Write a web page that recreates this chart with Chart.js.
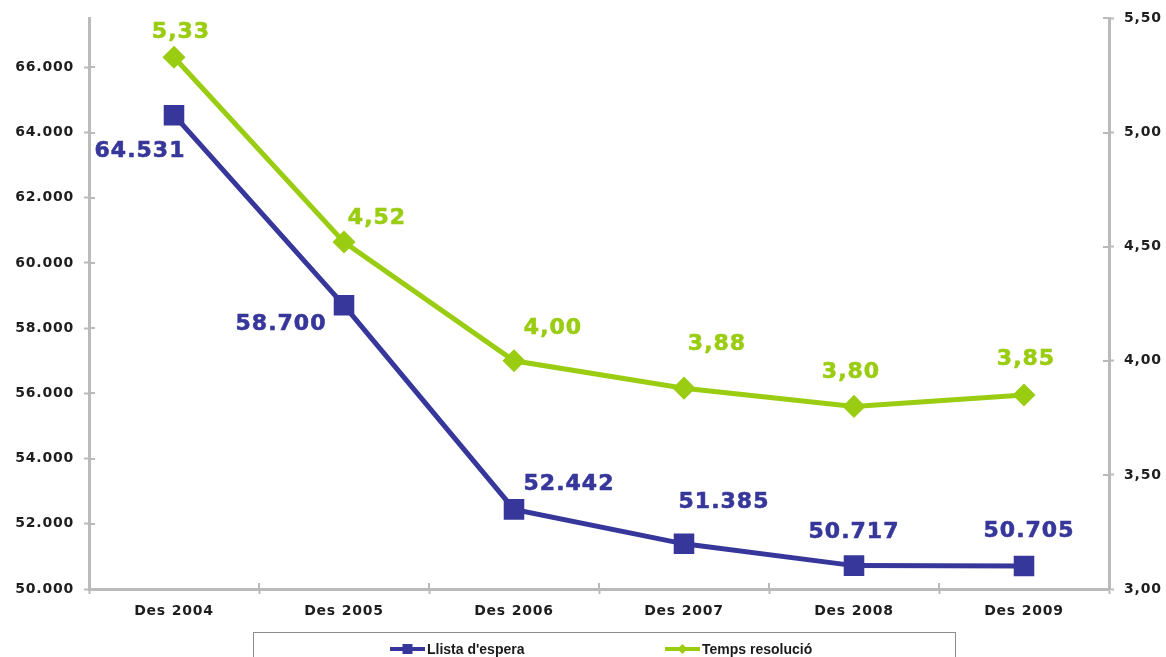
<!DOCTYPE html>
<html>
<head>
<meta charset="utf-8">
<script src="https://cdn.jsdelivr.net/npm/chart.js@4/dist/chart.umd.min.js"></script>
<style>
  html, body { margin: 0; padding: 0; background: #fff; }
  #wrap { width: 1166px; height: 657px; position: relative; }
</style>
</head>
<body>
<div id="wrap"><canvas id="c" width="1166" height="657"></canvas></div>
<script>
// ---- data ----
const categories = ['Des 2004', 'Des 2005', 'Des 2006', 'Des 2007', 'Des 2008', 'Des 2009'];
const llistaEspera = [64531, 58700, 52442, 51385, 50717, 50705];
const tempsResolucio = [5.33, 4.52, 4.00, 3.88, 3.80, 3.85];
const leftTicks = [50000, 52000, 54000, 56000, 58000, 60000, 62000, 64000, 66000];
const rightTicks = [3.0, 3.5, 4.0, 4.5, 5.0, 5.5];
const seriesNames = ["Llista d'espera", 'Temps resolució'];

// ---- label placement (style) ----
const blueLabelOffsets = [[-34, 36], [-63, 19], [55, -25], [40, -42], [0, -33], [5, -35]];
const greenLabelOffsets = [[7, -25], [33, -24], [39, -32], [33, -44], [-3, -34], [2, -36]];

const BLUE = '#37379b';
const GREEN = '#9acc12';
const AXIS = '#bababa';
const TICKFONT = { family: "'DejaVu Sans', Verdana, sans-serif", size: 14, weight: 'bold' };

const fmtThousands = v => Math.round(v).toString().replace(/\B(?=(\d{3})+(?!\d))/g, '.');
const fmtDec = v => v.toFixed(2).replace('.', ',');

const setSpacing = chart => { try { chart.ctx.letterSpacing = '0.8px'; } catch (e) {} };
const spacing = {
  id: 'spacing',
  beforeUpdate: setSpacing,
  beforeLayout: setSpacing,
  beforeDraw: setSpacing
};

const innerTicks = {
  id: 'innerTicks',
  beforeDatasetsDraw(chart) {
    const ctx = chart.ctx;
    const a = chart.chartArea;
    ctx.save();
    ctx.strokeStyle = AXIS;
    ctx.lineWidth = 2;
    ctx.beginPath();
    const ys = chart.scales.y, y2 = chart.scales.y2;
    leftTicks.forEach(v => { const p = Math.round(ys.getPixelForValue(v)); ctx.moveTo(a.left, p); ctx.lineTo(a.left + 6, p); });
    rightTicks.forEach(v => { const p = Math.round(y2.getPixelForValue(v)); ctx.moveTo(a.right, p); ctx.lineTo(a.right - 6, p); });
    for (let i = 0; i <= categories.length; i++) {
      const p = Math.round(a.left + (a.right - a.left) * i / categories.length);
      ctx.moveTo(p, a.bottom); ctx.lineTo(p, a.bottom - 6);
    }
    ctx.stroke();
    ctx.restore();
  }
};

const dataLabels = {
  id: 'dataLabels',
  afterDatasetsDraw(chart) {
    const ctx = chart.ctx;
    ctx.save();
    ctx.font = "bold 22px 'DejaVu Sans', Verdana, sans-serif";
    try { ctx.letterSpacing = '1px'; } catch (e) {}
    ctx.textAlign = 'center';
    ctx.textBaseline = 'middle';
    ctx.lineWidth = 0.6;
    ctx.lineJoin = 'round';
    chart.data.datasets.forEach((ds, di) => {
      const meta = chart.getDatasetMeta(di);
      const offs = di === 0 ? blueLabelOffsets : greenLabelOffsets;
      ctx.fillStyle = ds.borderColor;
      ctx.strokeStyle = ds.borderColor;
      meta.data.forEach((pt, i) => {
        const txt = di === 0 ? fmtThousands(ds.data[i]) : fmtDec(ds.data[i]);
        ctx.fillText(txt, pt.x + offs[i][0], pt.y + offs[i][1]);
        ctx.strokeText(txt, pt.x + offs[i][0], pt.y + offs[i][1]);
      });
    });
    ctx.restore();
  }
};

const legendBox = {
  id: 'legendBox',
  afterDraw(chart) {
    const ctx = chart.ctx;
    ctx.save();
    try { ctx.letterSpacing = '0px'; } catch (e) {}
    ctx.strokeStyle = '#8c8c8c';
    ctx.lineWidth = 1;
    ctx.strokeRect(253.5, 632.5, 702, 40);
    const items = [
      { name: seriesNames[0], color: BLUE, x0: 390, x1: 425, style: 'rect', tx: 427 },
      { name: seriesNames[1], color: GREEN, x0: 665, x1: 700, style: 'rectRot', tx: 702 }
    ];
    const y = 649;
    items.forEach(it => {
      ctx.strokeStyle = it.color;
      ctx.fillStyle = it.color;
      ctx.lineWidth = 4;
      ctx.beginPath();
      ctx.moveTo(it.x0, y);
      ctx.lineTo(it.x1, y);
      ctx.stroke();
      const cx = (it.x0 + it.x1) / 2;
      ctx.beginPath();
      if (it.style === 'rect') {
        ctx.rect(cx - 5, y - 5, 10, 10);
      } else {
        ctx.moveTo(cx - 5, y); ctx.lineTo(cx, y - 5); ctx.lineTo(cx + 5, y); ctx.lineTo(cx, y + 5); ctx.closePath();
      }
      ctx.fill();
      ctx.fillStyle = '#1a1a1a';
      ctx.font = "bold 14px 'Liberation Sans Narrow', 'Arial Narrow', 'Liberation Sans', sans-serif";
      ctx.textAlign = 'left';
      ctx.textBaseline = 'middle';
      ctx.fillText(it.name, it.tx, y + 1);
    });
    ctx.restore();
  }
};

new Chart(document.getElementById('c'), {
  type: 'line',
  data: {
    labels: categories,
    datasets: [
      {
        label: seriesNames[0],
        data: llistaEspera,
        yAxisID: 'y',
        borderColor: BLUE,
        backgroundColor: BLUE,
        borderWidth: 5,
        pointStyle: 'rect',
        pointRadius: 11,
        pointHoverRadius: 11,
        tension: 0
      },
      {
        label: seriesNames[1],
        data: tempsResolucio,
        yAxisID: 'y2',
        borderColor: GREEN,
        backgroundColor: GREEN,
        borderWidth: 5,
        pointStyle: 'rectRot',
        pointRadius: 8,
        pointHoverRadius: 8,
        tension: 0
      }
    ]
  },
  options: {
    responsive: false,
    animation: false,
    events: [],
    layout: { padding: { top: 17, bottom: 0, left: 0, right: 0 } },
    plugins: { legend: { display: false }, tooltip: { enabled: false } },
    scales: {
      x: {
        offset: true,
        grid: { offset: true, drawOnChartArea: false, color: AXIS, tickLength: 5, tickWidth: 2 },
        border: { color: AXIS, width: 3 },
        ticks: { color: '#1e1e1e', font: TICKFONT, padding: 9, maxRotation: 0 },
        afterFit(s) { s.height = 68; }
      },
      y: {
        position: 'left',
        min: 50000,
        max: 67500,
        afterBuildTicks(s) { s.ticks = leftTicks.map(v => ({ value: v })); },
        grid: { drawOnChartArea: false, color: AXIS, tickLength: 5, tickWidth: 2 },
        border: { color: AXIS, width: 3 },
        ticks: { color: '#1e1e1e', font: TICKFONT, padding: 10, callback: v => fmtThousands(v) },
        afterFit(s) { s.width = 89; }
      },
      y2: {
        position: 'right',
        min: 3,
        max: 5.5,
        afterBuildTicks(s) { s.ticks = rightTicks.map(v => ({ value: v })); },
        grid: { drawOnChartArea: false, color: AXIS, tickLength: 5, tickWidth: 2 },
        border: { color: AXIS, width: 3 },
        ticks: { color: '#1e1e1e', font: TICKFONT, padding: 10, callback: v => fmtDec(v) },
        afterFit(s) { s.width = 57; }
      }
    }
  },
  plugins: [spacing, innerTicks, dataLabels, legendBox]
});
</script>
</body>
</html>
